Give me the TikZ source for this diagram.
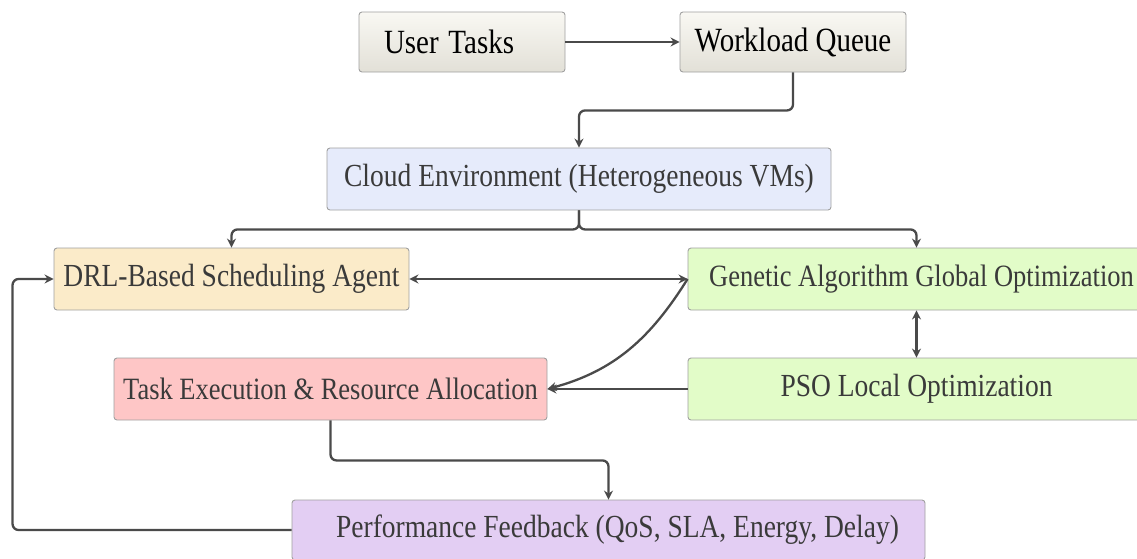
\documentclass[tikz,border=0pt]{standalone}
\usepackage{fontspec}
\usepackage{graphicx}
\setmainfont{Liberation Serif}
\usetikzlibrary{arrows.meta,calc}
\definecolor{linec}{HTML}{4A4A4A}
\definecolor{boxedge}{HTML}{A0A0A0}
\definecolor{txt}{HTML}{3A3A3A}
\definecolor{topA}{HTML}{F9F8F3}
\definecolor{topB}{HTML}{E2E0D7}
\definecolor{cloudc}{HTML}{E6EBFB}
\definecolor{drlc}{HTML}{FBEBC9}
\definecolor{gac}{HTML}{E2FCC8}
\definecolor{taskc}{HTML}{FEC6C6}
\definecolor{perfc}{HTML}{E3CEF3}
\newcommand{\tallt}[1]{\scalebox{1}[1.17]{#1}}
\tikzset{
  box/.style={draw=boxedge, line width=0.9pt, rounded corners=3pt, inner sep=0pt,
    font=\fontsize{27.5}{30}\selectfont, text=txt, anchor=center},
  smallbox/.style={box, font=\fontsize{26.5}{30}\selectfont},
  topbox/.style={box, top color=topA, bottom color=topB, text=black,
    font=\fontsize{29}{32}\selectfont},
  conn/.style={draw=linec, line width=2.3pt, rounded corners=6pt,
    -{Stealth[length=9pt,width=9pt,inset=3pt]}},
  dconn/.style={draw=linec, line width=2.3pt,
    {Stealth[length=9pt,width=9pt,inset=3pt]}-{Stealth[length=9pt,width=9pt,inset=3pt]}},
}
\begin{document}
\begin{tikzpicture}[x=1pt,y=1pt]
\useasboundingbox (0,0) rectangle (1137,-558);
\node[topbox, minimum width=206pt, minimum height=60pt, text width=156pt, inner xsep=25pt, align=left] (user) at (462,-42) {\tallt{User Tasks}};
\node[topbox, minimum width=226pt, minimum height=60pt] (wq) at (793,-42) {\tallt{Workload Queue}};
\node[box, fill=cloudc, minimum width=504pt, minimum height=62pt] (cloud) at (579,-179) {\tallt{Cloud Environment (Heterogeneous VMs)}};
\node[box, fill=drlc, minimum width=355pt, minimum height=62pt] (drl) at (231.5,-279) {\tallt{DRL-Based Scheduling Agent}};
\node[smallbox, fill=gac, minimum width=457pt, minimum height=62pt] (ga) at (916.5,-279) {\hspace*{10pt}\tallt{Genetic Algorithm Global Optimization}};
\node[smallbox, fill=taskc, minimum width=433pt, minimum height=62pt] (task) at (330.5,-389) {\tallt{Task Execution \& Resource Allocation}};
\node[box, fill=gac, minimum width=457pt, minimum height=62pt] (pso) at (916.5,-389) {\tallt{PSO Local Optimization}};
\node[box, fill=perfc, minimum width=633pt, minimum height=60pt] (perf) at (608.5,-530) {\hspace*{18pt}\tallt{Performance Feedback (QoS, SLA, Energy, Delay)}};

\draw[conn] (user.east) -- (wq.west);
\draw[conn] (wq.south) -- ++(0,-38) -| (cloud.north);
\draw[conn] (cloud.south) -- ++(0,-19) -| (drl.north);
\draw[conn] (cloud.south) -- ++(0,-19) -| (ga.north);
\draw[dconn] (drl.east) -- (ga.west);
\draw[dconn] (ga.south) -- (pso.north);
\draw[conn] (ga.west) to[out=238, in=15] (task.east);
\draw[conn] (pso.west) -- (task.east);
\draw[conn] (task.south) -- ++(0,-40) -| (perf.north);
\draw[conn] (perf.west) -| ([xshift=-41pt]drl.west) -- (drl.west);
\end{tikzpicture}
\end{document}
